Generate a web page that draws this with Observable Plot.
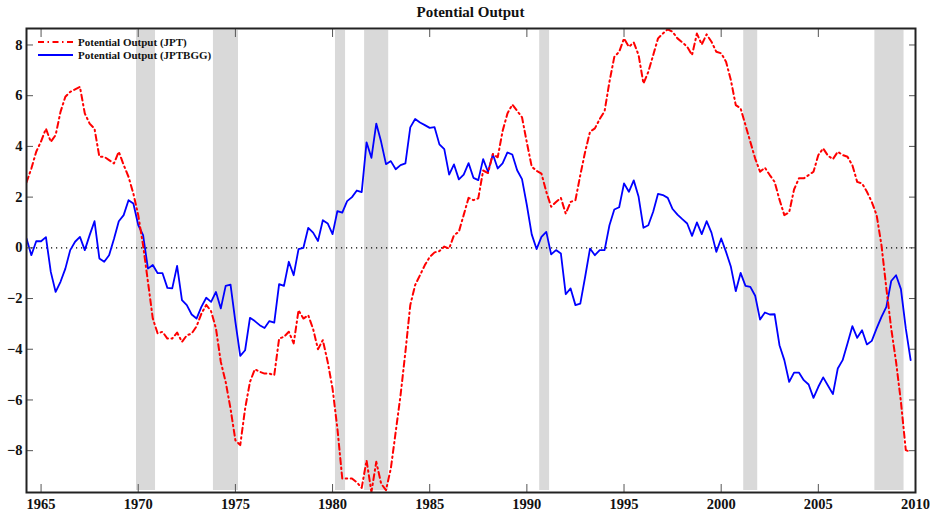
<!DOCTYPE html>
<html>
<head>
<meta charset="utf-8">
<script src="https://cdn.jsdelivr.net/npm/d3@7"></script>
<script src="https://cdn.jsdelivr.net/npm/@observablehq/plot@0.6"></script>
<style>
  html, body { margin: 0; padding: 0; background: #fff; }
  #wrap { position: relative; width: 930px; height: 515px; font-family: "Liberation Serif", "DejaVu Serif", serif; }
  #title { height: 25px; line-height: 25px; text-align: center; font-weight: bold; font-size: 15px; color: #111; padding-left: 11px; box-sizing: border-box; }
  #legend { position: absolute; left: 38px; top: 35px; font-weight: bold; font-size: 11px; color: #111; }
  .row { display: flex; align-items: center; height: 13.5px; }
  .row svg { margin-right: 4px; }
  #chart svg text { font-family: "Liberation Serif", serif !important; font-weight: bold; font-size: 14.5px; fill: #111; }
</style>
</head>
<body>
<div id="wrap">
  <div id="title">Potential Output</div>
  <div id="chart"></div>
  <div id="legend"></div>
</div>
<script>
// Quarterly data, first observation 1964Q2
const startYear = 1964.25;
const jpt = [
  2.58, 3.13, 3.79,
  4.2, 4.7, 4.18, 4.45,
  5.36, 5.96, 6.15, 6.25,
  6.35, 5.3, 4.9, 4.7,
  3.59, 3.59, 3.46, 3.33,
  3.79, 3.27, 2.8, 2.14,
  1.29, 0.1, -1.34, -2.79,
  -3.38, -3.31, -3.58, -3.58,
  -3.34, -3.71, -3.45, -3.38,
  -3.1, -2.6, -2.25, -2.5,
  -3.18, -4.5, -5.29, -6.34,
  -7.59, -7.78, -6.34, -5.29,
  -4.79, -4.89, -4.96, -4.96,
  -5.02, -3.58, -3.51, -3.31,
  -3.77, -2.46, -2.79, -2.66,
  -3.2, -4.0, -3.64, -4.5,
  -5.55, -7.13, -9.1, -9.1,
  -9.1, -9.25, -9.47, -8.38,
  -9.63, -8.44, -9.3, -9.56,
  -8.7, -7.26, -5.81, -4.1,
  -2.26, -1.47, -1.08, -0.68,
  -0.36, -0.18, -0.13, 0.05,
  -0.03, 0.5, 0.63, 1.3,
  1.97, 1.88, 1.95, 3.05,
  2.95, 3.7, 3.57, 4.6,
  5.3, 5.65, 5.4, 5.15,
  4.15, 3.2, 3.04, 2.93,
  2.21, 1.62, 1.81, 1.97,
  1.35, 1.81, 1.88, 2.87,
  3.79, 4.58, 4.71, 5.08,
  5.39, 6.55, 7.53, 7.73,
  8.26, 7.93, 8.1, 7.6,
  6.48, 6.94, 7.6, 8.26,
  8.45, 8.62, 8.52, 8.26,
  8.1, 7.93, 7.6, 8.45,
  8.02, 8.42, 8.13, 7.73,
  7.67, 7.34, 6.61, 5.63,
  5.5, 4.84, 4.18, 3.52,
  3.0, 3.16, 2.87, 2.6,
  1.9, 1.29, 1.4, 2.3,
  2.74, 2.74, 2.87, 3.0,
  3.66, 3.92, 3.63, 3.5,
  3.79, 3.66, 3.59, 3.26,
  2.6, 2.54, 2.21, 1.81,
  1.29, 0.1, -1.6, -3.18,
  -4.5, -6.07, -7.98, -8.05
];
const jptbgg = [
  0.37, -0.29, 0.26,
  0.26, 0.42, -0.95, -1.74,
  -1.34, -0.82, -0.09, 0.24,
  0.43, -0.09, 0.5, 1.05,
  -0.42, -0.55, -0.29, 0.35,
  1.05, 1.29, 1.88, 1.75,
  0.9, 0.5, -0.82, -0.68,
  -1.0, -1.0, -1.58, -1.6,
  -0.71, -2.06, -2.26, -2.63,
  -2.79, -2.33, -1.97, -2.13,
  -1.74, -2.39, -1.5, -1.45,
  -2.92, -4.26, -4.04, -2.76,
  -2.89, -3.05, -3.16, -2.89,
  -2.95, -1.43, -1.5, -0.55,
  -1.08, -0.05, 0.0, 0.79,
  0.6, 0.27, 1.09, 0.96,
  0.54, 1.45, 1.39, 1.84,
  2.0, 2.26, 2.2, 4.16,
  3.55, 4.9, 4.18, 3.3,
  3.42, 3.1, 3.26, 3.33,
  4.75, 5.08, 4.94, 4.84,
  4.73, 4.76, 4.08, 3.89,
  2.89, 3.29, 2.7, 2.89,
  3.34, 2.76, 2.67, 3.5,
  3.0, 3.69, 3.13, 3.33,
  3.76, 3.68, 3.06, 2.71,
  1.68, 0.53, -0.05, 0.43,
  0.63, -0.26, -0.09, -0.22,
  -1.83, -1.6, -2.26, -2.2,
  -1.14, -0.03, -0.29, -0.09,
  -0.09, 0.89, 1.51, 1.6,
  2.54, 2.21, 2.66, 2.01,
  0.79, 0.89, 1.42, 2.13,
  2.08, 1.97, 1.53, 1.31,
  1.13, 0.96, 0.47, 1.0,
  0.54, 1.05, 0.6, -0.16,
  0.37, -0.16, -0.75, -1.71,
  -0.99, -1.5, -1.54, -1.89,
  -2.83, -2.55, -2.63, -2.62,
  -3.84, -4.43, -5.29, -4.92,
  -4.92, -5.22, -5.39, -5.92,
  -5.48, -5.11, -5.44, -5.77,
  -4.76, -4.43, -3.77, -3.09,
  -3.55, -3.25, -3.81, -3.67,
  -3.18, -2.72, -2.33, -1.31,
  -1.08, -1.63, -3.18, -4.43
];
const recessionStart = [1969.91, 1973.87, 1980.15, 1981.65, 1990.66, 2001.16, 2007.91];
const recessionEnd   = [1970.89, 1975.16, 1980.67, 1982.89, 1991.17, 2001.88, 2009.41];
const xTicks = [1965, 1970, 1975, 1980, 1985, 1990, 1995, 2000, 2005, 2010];
const yTicks = [-8, -6, -4, -2, 0, 2, 4, 6, 8];
const seriesNames = ["Potential Output (JPT)", "Potential Output (JPTBGG)"];
const seriesColors = ["#ff0000", "#0000ff"];

const rows = jpt.map((v, i) => ({date: startYear + i / 4, jpt: v, jptbgg: jptbgg[i]}));
const recessions = recessionStart.map((s, i) => ({start: s, end: recessionEnd[i]}));
const redDash = "6,3.5,1.5,3.5";

const chart = Plot.plot({
  width: 930,
  height: 490,
  marginLeft: 26,
  marginRight: 15,
  marginTop: 3,
  marginBottom: 23,
  x: {domain: [1964.25, 2010]},
  y: {domain: [-9.65, 8.65]},
  style: {fontFamily: "Liberation Serif", fontSize: "14px", fontWeight: "bold", color: "#111", background: "white", overflow: "visible"},
  marks: [
    Plot.rect(recessions, {x1: "start", x2: "end", fill: "#d9d9d9", insetTop: 2, insetBottom: 2}),
    Plot.ruleY([0], {stroke: "#000", strokeWidth: 1.2, strokeDasharray: "1.2,3.8"}),
    Plot.line(rows, {x: "date", y: "jptbgg", stroke: seriesColors[1], strokeWidth: 1.8, clip: true}),
    Plot.line(rows, {x: "date", y: "jpt", stroke: seriesColors[0], strokeWidth: 2, strokeDasharray: redDash, clip: true}),
    Plot.axisX({anchor: "bottom", ticks: xTicks, tickFormat: d => String(d), tickSize: -8, tickPadding: 14, label: null, stroke: "#555"}),
    Plot.axisX({anchor: "top", ticks: xTicks, tickFormat: () => "", tickSize: -8, label: null, stroke: "#555"}),
    Plot.axisY({anchor: "left", ticks: yTicks, tickSize: -7, tickPadding: 11, label: null, stroke: "#555"}),
    Plot.axisY({anchor: "right", ticks: yTicks, tickFormat: () => "", tickSize: -7, label: null, stroke: "#555"}),
    Plot.frame({stroke: "#222", strokeWidth: 2})
  ]
});
document.getElementById("chart").appendChild(chart);

// Legend
const legend = document.getElementById("legend");
seriesNames.forEach((name, i) => {
  const row = document.createElement("div");
  row.className = "row";
  const dash = i === 0 ? redDash : "none";
  row.innerHTML = `<svg width="36" height="6"><line x1="0" y1="3" x2="35" y2="3" stroke="${seriesColors[i]}" stroke-width="2" stroke-dasharray="${dash}"/></svg><span>${name}</span>`;
  legend.appendChild(row);
});
</script>
</body>
</html>
